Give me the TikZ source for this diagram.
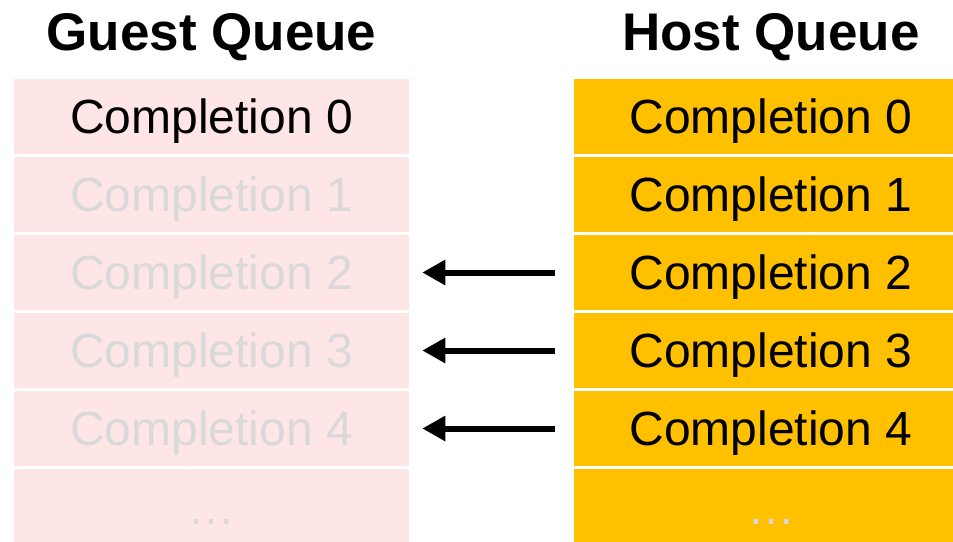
\documentclass[tikz,border=0pt]{standalone}
\usepackage{fontspec}
\setmainfont{Liberation Sans}
\usetikzlibrary{arrows.meta}
\definecolor{guestfill}{HTML}{FFE6E6}
\definecolor{hostfill}{HTML}{FFC000}
\definecolor{fadetext}{HTML}{D9D9D9}
\tikzset{
  cell/.style={rectangle, draw=white, line width=2.5pt, inner sep=0pt,
    minimum height=78pt, text height=34.4pt, text depth=0pt,
    font=\fontsize{48}{58}\selectfont},
  guestcell/.style={cell, fill=guestfill, minimum width=397pt, text=fadetext},
  hostcell/.style={cell, fill=hostfill, minimum width=396pt, text=black},
  header/.style={inner sep=0pt, text height=38pt, text depth=0pt,
    font=\fontsize{53}{62}\selectfont\bfseries},
  dots/.style={inner sep=0pt, anchor=base, text=fadetext,
    font=\fontsize{48}{58}\selectfont},
  fillarrow/.style={line width=6pt, -{Triangle[length=23pt,width=24pt]}}
}
\begin{document}
\begin{tikzpicture}[x=1pt,y=-1pt]
\useasboundingbox (0,0) rectangle (953,541);
\clip (0,0) rectangle (953,541);
\node[header] (gq) at (211.5,31.5) {Guest Queue};
\node[header] (hq) at (771,31.5) {Host Queue};
% guest queue
\node[guestcell, text=black] (g0) at (211.5,116.5) {Completion 0};
\node[guestcell] (g1) at (211.5,194.5) {Completion 1};
\node[guestcell] (g2) at (211.5,272.5) {Completion 2};
\node[guestcell] (g3) at (211.5,350.5) {Completion 3};
\node[guestcell] (g4) at (211.5,428.5) {Completion 4};
\node[guestcell] (g5) at (211.5,506.5) {};
\node[dots] (gd) at (211.5,524) {…};
% host queue
\node[hostcell] (h0) at (771,116.5) {Completion 0};
\node[hostcell] (h1) at (771,194.5) {Completion 1};
\node[hostcell] (h2) at (771,272.5) {Completion 2};
\node[hostcell] (h3) at (771,350.5) {Completion 3};
\node[hostcell] (h4) at (771,428.5) {Completion 4};
\node[hostcell] (h5) at (771,506.5) {};
\node[dots] (hd) at (771,524) {…};
% arrows
\draw[fillarrow] ([xshift=-17pt]h2.west) -- ([xshift=11pt]g2.east);
\draw[fillarrow] ([xshift=-17pt]h3.west) -- ([xshift=11pt]g3.east);
\draw[fillarrow] ([xshift=-17pt]h4.west) -- ([xshift=11pt]g4.east);
\end{tikzpicture}
\end{document}
